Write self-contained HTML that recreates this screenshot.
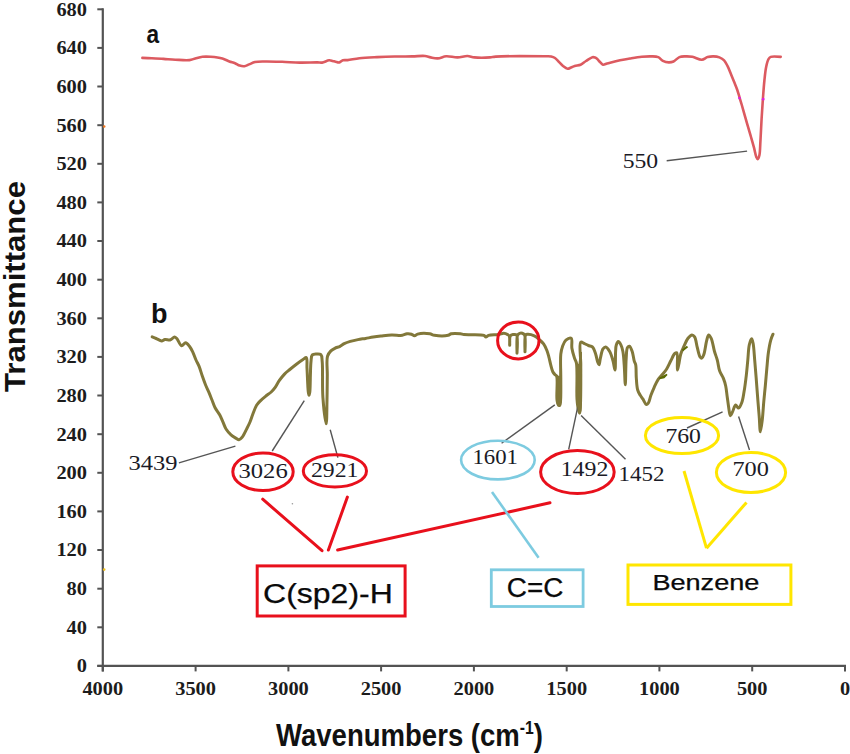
<!DOCTYPE html>
<html><head><meta charset="utf-8"><style>
html,body{margin:0;padding:0;background:#fff;}
body{width:850px;height:754px;overflow:hidden;}
svg{display:block;}
.tk{font-family:"Liberation Serif",serif;font-weight:bold;font-size:19px;fill:#1c1c1c;}
.nm{font-family:"Liberation Serif",serif;font-size:20.5px;fill:#1a1a26;}
.sb{font-family:"Liberation Sans",sans-serif;font-weight:bold;fill:#111;}
.bx{font-family:"Liberation Sans",sans-serif;fill:#0a0a0a;stroke:#0a0a0a;stroke-width:0.25px;}
</style></head><body>
<svg width="850" height="754" viewBox="0 0 850 754">
<rect width="850" height="754" fill="#fff"/>
<line x1="102.8" y1="8.3" x2="102.8" y2="671.4" stroke="#535353" stroke-width="2.2"/><line x1="97.3" y1="665.9" x2="846.0" y2="665.9" stroke="#535353" stroke-width="2.2"/><line x1="97.3" y1="665.9" x2="102.8" y2="665.9" stroke="#535353" stroke-width="2"/><line x1="97.3" y1="627.3" x2="102.8" y2="627.3" stroke="#535353" stroke-width="2"/><line x1="97.3" y1="588.7" x2="102.8" y2="588.7" stroke="#535353" stroke-width="2"/><line x1="97.3" y1="550.0" x2="102.8" y2="550.0" stroke="#535353" stroke-width="2"/><line x1="97.3" y1="511.4" x2="102.8" y2="511.4" stroke="#535353" stroke-width="2"/><line x1="97.3" y1="472.8" x2="102.8" y2="472.8" stroke="#535353" stroke-width="2"/><line x1="97.3" y1="434.2" x2="102.8" y2="434.2" stroke="#535353" stroke-width="2"/><line x1="97.3" y1="395.5" x2="102.8" y2="395.5" stroke="#535353" stroke-width="2"/><line x1="97.3" y1="356.9" x2="102.8" y2="356.9" stroke="#535353" stroke-width="2"/><line x1="97.3" y1="318.3" x2="102.8" y2="318.3" stroke="#535353" stroke-width="2"/><line x1="97.3" y1="279.7" x2="102.8" y2="279.7" stroke="#535353" stroke-width="2"/><line x1="97.3" y1="241.0" x2="102.8" y2="241.0" stroke="#535353" stroke-width="2"/><line x1="97.3" y1="202.4" x2="102.8" y2="202.4" stroke="#535353" stroke-width="2"/><line x1="97.3" y1="163.8" x2="102.8" y2="163.8" stroke="#535353" stroke-width="2"/><line x1="97.3" y1="125.2" x2="102.8" y2="125.2" stroke="#535353" stroke-width="2"/><line x1="97.3" y1="86.5" x2="102.8" y2="86.5" stroke="#535353" stroke-width="2"/><line x1="97.3" y1="47.9" x2="102.8" y2="47.9" stroke="#535353" stroke-width="2"/><line x1="97.3" y1="9.3" x2="102.8" y2="9.3" stroke="#535353" stroke-width="2"/><line x1="845.0" y1="665.9" x2="845.0" y2="671.4" stroke="#535353" stroke-width="2"/><line x1="752.2" y1="665.9" x2="752.2" y2="671.4" stroke="#535353" stroke-width="2"/><line x1="659.4" y1="665.9" x2="659.4" y2="671.4" stroke="#535353" stroke-width="2"/><line x1="566.7" y1="665.9" x2="566.7" y2="671.4" stroke="#535353" stroke-width="2"/><line x1="473.9" y1="665.9" x2="473.9" y2="671.4" stroke="#535353" stroke-width="2"/><line x1="381.1" y1="665.9" x2="381.1" y2="671.4" stroke="#535353" stroke-width="2"/><line x1="288.4" y1="665.9" x2="288.4" y2="671.4" stroke="#535353" stroke-width="2"/><line x1="195.6" y1="665.9" x2="195.6" y2="671.4" stroke="#535353" stroke-width="2"/><line x1="102.8" y1="665.9" x2="102.8" y2="671.4" stroke="#535353" stroke-width="2"/>
<text x="87.0" y="672.3" class="tk" text-anchor="end" textLength="10.2" lengthAdjust="spacingAndGlyphs">0</text><text x="87.0" y="633.7" class="tk" text-anchor="end" textLength="20.4" lengthAdjust="spacingAndGlyphs">40</text><text x="87.0" y="595.1" class="tk" text-anchor="end" textLength="20.4" lengthAdjust="spacingAndGlyphs">80</text><text x="87.0" y="556.4" class="tk" text-anchor="end" textLength="30.6" lengthAdjust="spacingAndGlyphs">120</text><text x="87.0" y="517.8" class="tk" text-anchor="end" textLength="30.6" lengthAdjust="spacingAndGlyphs">160</text><text x="87.0" y="479.2" class="tk" text-anchor="end" textLength="30.6" lengthAdjust="spacingAndGlyphs">200</text><text x="87.0" y="440.6" class="tk" text-anchor="end" textLength="30.6" lengthAdjust="spacingAndGlyphs">240</text><text x="87.0" y="401.9" class="tk" text-anchor="end" textLength="30.6" lengthAdjust="spacingAndGlyphs">280</text><text x="87.0" y="363.3" class="tk" text-anchor="end" textLength="30.6" lengthAdjust="spacingAndGlyphs">320</text><text x="87.0" y="324.7" class="tk" text-anchor="end" textLength="30.6" lengthAdjust="spacingAndGlyphs">360</text><text x="87.0" y="286.1" class="tk" text-anchor="end" textLength="30.6" lengthAdjust="spacingAndGlyphs">400</text><text x="87.0" y="247.4" class="tk" text-anchor="end" textLength="30.6" lengthAdjust="spacingAndGlyphs">440</text><text x="87.0" y="208.8" class="tk" text-anchor="end" textLength="30.6" lengthAdjust="spacingAndGlyphs">480</text><text x="87.0" y="170.2" class="tk" text-anchor="end" textLength="30.6" lengthAdjust="spacingAndGlyphs">520</text><text x="87.0" y="131.6" class="tk" text-anchor="end" textLength="30.6" lengthAdjust="spacingAndGlyphs">560</text><text x="87.0" y="92.9" class="tk" text-anchor="end" textLength="30.6" lengthAdjust="spacingAndGlyphs">600</text><text x="87.0" y="54.3" class="tk" text-anchor="end" textLength="30.6" lengthAdjust="spacingAndGlyphs">640</text><text x="87.0" y="15.7" class="tk" text-anchor="end" textLength="30.6" lengthAdjust="spacingAndGlyphs">680</text>
<text x="845.0" y="694.6" class="tk" text-anchor="middle" textLength="10.2" lengthAdjust="spacingAndGlyphs">0</text><text x="752.2" y="694.6" class="tk" text-anchor="middle" textLength="30.6" lengthAdjust="spacingAndGlyphs">500</text><text x="659.4" y="694.6" class="tk" text-anchor="middle" textLength="40.8" lengthAdjust="spacingAndGlyphs">1000</text><text x="566.7" y="694.6" class="tk" text-anchor="middle" textLength="40.8" lengthAdjust="spacingAndGlyphs">1500</text><text x="473.9" y="694.6" class="tk" text-anchor="middle" textLength="40.8" lengthAdjust="spacingAndGlyphs">2000</text><text x="381.1" y="694.6" class="tk" text-anchor="middle" textLength="40.8" lengthAdjust="spacingAndGlyphs">2500</text><text x="288.4" y="694.6" class="tk" text-anchor="middle" textLength="40.8" lengthAdjust="spacingAndGlyphs">3000</text><text x="195.6" y="694.6" class="tk" text-anchor="middle" textLength="40.8" lengthAdjust="spacingAndGlyphs">3500</text><text x="102.8" y="694.6" class="tk" text-anchor="middle" textLength="40.8" lengthAdjust="spacingAndGlyphs">4000</text>
<path d="M142.40,57.90 C142.40,57.90 148.50,58.05 151.80,58.20 C155.49,58.37 159.59,58.65 163.50,58.90 C167.43,59.15 171.19,59.50 175.30,59.70 C179.79,59.92 185.73,60.54 189.40,60.10 C191.81,59.81 193.24,59.03 195.30,58.50 C197.55,57.92 199.93,57.09 202.40,56.80 C205.02,56.49 207.63,56.59 210.60,56.80 C214.18,57.06 219.03,57.55 222.40,58.50 C225.09,59.26 227.18,60.69 229.40,61.50 C231.35,62.21 233.24,62.49 235.00,63.20 C236.67,63.87 238.09,65.10 239.70,65.60 C241.23,66.07 242.86,66.39 244.40,66.20 C245.99,66.01 247.45,65.04 249.10,64.40 C250.96,63.68 252.76,62.60 255.00,62.10 C257.73,61.50 260.77,61.58 264.40,61.50 C269.37,61.38 276.21,61.62 282.10,61.80 C287.98,61.98 293.82,62.50 299.70,62.60 C305.59,62.70 313.39,62.34 317.40,62.40 C319.47,62.43 320.40,62.84 322.10,62.60 C324.23,62.31 327.15,60.44 329.10,60.30 C330.45,60.20 331.49,60.65 332.60,60.90 C333.62,61.13 334.46,61.46 335.50,61.70 C336.70,61.97 338.17,62.62 339.40,62.40 C340.64,62.17 341.59,60.69 342.90,60.30 C344.30,59.88 345.69,60.29 347.60,60.10 C350.65,59.79 355.06,58.68 359.40,58.20 C364.69,57.61 371.21,57.38 377.10,57.10 C382.97,56.82 388.82,56.62 394.70,56.50 C400.59,56.38 407.00,56.50 412.40,56.40 C416.96,56.31 421.66,55.64 425.00,56.00 C427.26,56.24 428.61,57.01 430.60,57.40 C432.82,57.83 435.24,58.53 437.70,58.40 C440.42,58.26 443.14,56.52 446.20,56.30 C449.68,56.05 453.86,57.48 457.50,57.40 C460.91,57.33 464.39,55.91 467.40,56.00 C469.94,56.07 471.59,57.12 474.40,57.40 C478.56,57.81 486.11,57.68 490.00,57.40 C492.34,57.23 492.80,56.81 495.60,56.60 C503.88,55.99 536.39,56.19 545.00,56.30 C548.05,56.34 549.41,56.13 551.20,56.50 C552.65,56.80 553.77,57.19 555.00,58.00 C556.52,59.00 558.01,61.01 559.40,62.40 C560.66,63.66 561.65,64.96 563.00,66.00 C564.38,67.07 566.15,68.56 567.60,68.70 C568.79,68.81 569.85,67.95 571.00,67.50 C572.22,67.02 573.30,66.34 574.70,65.90 C576.41,65.36 578.75,65.48 580.60,64.70 C582.53,63.88 584.10,62.21 586.00,61.00 C588.02,59.71 590.69,57.57 592.40,57.20 C593.41,56.98 594.22,57.22 595.00,57.50 C595.75,57.77 596.30,58.22 597.00,58.80 C597.94,59.59 598.98,61.00 600.00,62.00 C600.98,62.96 601.85,64.44 603.00,64.70 C604.17,64.96 605.66,63.88 607.00,63.50 C608.33,63.12 609.40,62.81 611.00,62.40 C613.40,61.79 616.91,60.94 620.00,60.30 C623.24,59.63 626.52,59.06 630.00,58.50 C633.77,57.89 638.08,57.15 641.80,56.80 C645.10,56.49 648.30,56.32 651.20,56.40 C653.71,56.47 656.20,56.28 658.20,57.10 C660.05,57.86 661.14,60.02 662.90,60.90 C664.67,61.79 666.94,62.34 668.80,62.40 C670.45,62.45 671.92,62.19 673.50,61.50 C675.45,60.64 677.32,57.93 679.40,57.10 C681.27,56.35 683.24,56.46 685.30,56.40 C687.55,56.33 689.90,56.35 692.40,56.80 C695.34,57.33 699.07,59.87 701.80,59.70 C703.99,59.57 705.62,57.65 707.60,57.10 C709.52,56.57 711.54,56.35 713.50,56.40 C715.47,56.45 717.60,56.72 719.40,57.40 C721.12,58.05 722.78,58.96 724.10,60.30 C725.57,61.80 726.50,64.03 727.60,66.20 C728.85,68.67 729.98,71.70 731.10,74.40 C732.18,77.00 733.18,79.54 734.20,82.10 C735.21,84.64 736.31,87.15 737.20,89.70 C738.08,92.22 738.74,94.76 739.50,97.30 C740.27,99.86 740.99,102.23 741.80,105.00 C742.74,108.25 743.79,112.06 744.80,115.60 C745.82,119.16 746.87,122.73 747.90,126.30 C748.93,129.87 749.98,133.43 751.00,137.00 C752.02,140.56 753.09,144.26 754.00,147.70 C754.84,150.88 755.43,154.90 756.30,156.90 C756.77,157.98 757.33,159.24 757.80,159.20 C758.38,159.15 758.99,157.04 759.40,155.30 C760.14,152.16 760.08,146.75 760.40,141.60 C760.82,134.94 761.17,126.05 761.60,118.70 C762.00,111.86 762.42,105.38 762.90,98.90 C763.36,92.65 763.80,86.18 764.40,80.50 C764.92,75.59 765.37,70.67 766.20,66.80 C766.83,63.87 767.47,60.92 768.50,59.20 C769.16,58.10 769.62,57.39 770.80,56.90 C772.85,56.05 780.70,56.90 780.70,56.90" fill="none" stroke="#dc5a60" stroke-width="2.6" stroke-linejoin="round" stroke-linecap="round"/>
<path d="M152.20,336.90 C152.20,336.90 154.69,337.91 156.10,338.50 C157.80,339.21 160.09,340.88 161.70,340.90 C162.91,340.91 163.66,339.82 164.90,339.60 C166.48,339.32 168.86,340.30 170.50,339.80 C172.04,339.33 173.35,336.91 174.50,336.90 C175.37,336.89 175.98,337.66 176.80,338.50 C178.24,339.97 179.91,345.40 181.60,345.70 C182.88,345.93 184.30,342.72 185.60,342.80 C186.97,342.88 188.44,345.04 189.60,346.50 C190.87,348.09 191.80,350.04 192.80,352.10 C193.95,354.47 194.90,357.52 196.00,360.00 C197.01,362.26 198.13,364.02 199.10,366.40 C200.26,369.24 201.21,372.89 202.30,376.00 C203.34,378.98 204.39,381.95 205.50,384.70 C206.53,387.23 207.65,389.44 208.70,391.90 C209.79,394.46 210.84,397.16 211.90,399.80 C212.97,402.46 213.78,405.27 215.10,407.80 C216.42,410.33 218.46,412.56 219.80,415.00 C221.07,417.33 221.94,419.72 223.00,422.10 C224.07,424.49 224.83,427.14 226.20,429.30 C227.52,431.39 229.29,433.38 231.00,434.90 C232.51,436.24 234.34,437.25 235.80,438.10 C236.95,438.77 237.97,439.80 239.00,439.70 C240.08,439.59 241.08,438.50 242.10,437.30 C243.73,435.38 245.51,431.23 246.90,428.50 C248.08,426.19 249.05,424.27 250.00,422.00 C251.00,419.61 251.68,417.11 252.70,414.50 C253.85,411.57 255.08,407.77 256.60,405.30 C257.80,403.36 259.11,402.10 260.60,400.60 C262.19,399.00 264.11,397.45 265.90,396.00 C267.64,394.59 269.62,393.47 271.20,392.00 C272.71,390.59 273.94,389.14 275.20,387.40 C276.63,385.43 277.69,382.87 279.20,380.70 C280.77,378.44 282.64,376.03 284.50,374.10 C286.19,372.34 287.92,371.07 289.80,369.50 C291.86,367.78 294.18,365.88 296.40,364.20 C298.58,362.55 301.16,360.71 303.00,359.50 C304.27,358.66 305.56,357.12 306.30,357.50 C307.53,358.14 306.74,363.86 307.00,368.10 C307.38,374.47 307.73,387.70 308.30,392.00 C308.51,393.62 308.75,395.30 309.00,395.30 C309.25,395.30 309.59,393.54 309.80,392.00 C310.28,388.52 310.19,380.16 310.40,374.80 C310.59,370.08 310.56,365.15 311.00,361.50 C311.31,358.90 311.15,356.08 312.30,354.90 C313.20,353.98 314.91,354.06 316.30,354.00 C317.77,353.93 319.90,353.65 320.90,354.60 C322.13,355.77 321.87,358.28 322.20,361.50 C322.95,368.76 322.11,386.28 322.90,397.30 C323.58,406.82 325.52,423.83 326.20,423.80 C326.84,423.77 326.82,408.03 327.00,400.00 C327.19,391.77 327.21,382.74 327.30,375.00 C327.38,368.29 326.24,360.43 327.50,356.20 C328.23,353.75 329.57,352.26 330.90,350.90 C332.05,349.73 333.36,349.04 334.80,348.30 C336.37,347.49 338.39,347.10 340.00,346.30 C341.51,345.55 342.63,344.47 344.20,343.70 C346.01,342.81 348.13,342.06 350.30,341.40 C352.67,340.68 355.35,340.10 357.90,339.60 C360.45,339.10 363.04,338.82 365.60,338.40 C368.14,337.98 370.65,337.48 373.20,337.10 C375.75,336.72 378.12,336.42 380.90,336.10 C384.17,335.72 388.03,335.13 391.60,335.00 C395.16,334.87 399.50,335.70 402.30,335.30 C404.18,335.03 405.35,333.98 406.90,333.80 C408.42,333.63 410.16,333.80 411.50,334.20 C412.65,334.54 413.49,335.81 414.50,335.80 C415.53,335.79 416.16,334.49 417.60,334.10 C420.27,333.38 426.73,333.35 429.80,333.80 C431.73,334.08 432.42,334.99 434.40,335.30 C437.74,335.83 445.32,335.98 448.20,335.30 C449.62,334.97 449.88,334.11 451.20,333.80 C453.39,333.28 458.05,333.54 460.40,333.80 C461.89,333.96 462.30,334.38 464.00,334.60 C467.95,335.10 480.79,334.09 483.90,335.30 C485.03,335.74 485.17,336.95 485.90,337.00 C486.69,337.05 487.28,335.71 488.50,335.30 C490.69,334.56 495.71,335.04 498.50,334.60 C500.56,334.28 502.18,333.23 503.80,333.30 C505.21,333.36 506.72,334.04 507.70,334.60 C508.40,335.00 508.92,335.21 509.30,336.00 C510.09,337.65 509.53,345.20 509.70,345.20 C509.87,345.20 509.23,337.63 510.30,336.00 C510.91,335.06 512.01,334.78 513.00,334.60 C514.06,334.40 515.67,334.09 516.50,335.00 C518.39,337.06 516.82,353.20 517.00,353.20 C517.18,353.20 516.23,337.75 517.60,335.00 C518.13,333.94 518.91,333.58 519.70,333.30 C520.48,333.02 521.50,333.04 522.30,333.30 C523.14,333.58 524.04,333.92 524.60,335.00 C525.95,337.61 524.83,351.80 525.00,351.80 C525.17,351.80 524.16,336.95 525.60,335.00 C526.11,334.31 526.73,334.34 527.60,334.30 C529.17,334.22 532.29,334.95 534.30,335.90 C536.28,336.83 538.00,338.51 539.60,339.90 C541.08,341.18 542.44,342.29 543.60,343.90 C544.93,345.74 546.01,348.26 546.90,350.50 C547.76,352.66 548.27,354.78 548.90,357.10 C549.58,359.63 550.12,362.57 550.80,365.10 C551.43,367.42 551.96,370.04 552.80,371.70 C553.38,372.86 554.11,373.65 554.80,374.40 C555.38,375.04 556.13,374.99 556.60,376.00 C558.07,379.20 556.23,395.02 557.00,400.00 C557.36,402.32 557.76,404.35 558.50,405.00 C558.87,405.32 559.47,405.44 559.80,405.20 C560.47,404.71 560.41,402.34 560.60,400.00 C560.99,395.21 560.77,385.48 560.80,378.00 C560.84,370.22 560.16,360.00 560.80,354.20 C561.18,350.80 561.68,348.62 562.60,346.20 C563.44,343.99 564.36,341.52 565.90,340.20 C567.30,339.01 570.12,337.59 571.20,338.30 C572.64,339.24 571.36,344.93 571.90,348.20 C572.45,351.53 573.62,355.33 574.50,358.10 C575.16,360.16 576.00,360.79 576.50,363.40 C577.75,369.97 576.36,390.75 577.00,399.20 C577.35,403.86 577.82,407.52 578.50,410.00 C578.88,411.38 579.47,413.16 579.80,413.10 C580.46,412.99 580.42,405.43 580.60,400.00 C580.90,391.11 580.77,375.24 580.80,364.80 C580.82,356.44 578.72,343.64 580.80,342.20 C581.67,341.60 583.26,343.07 584.50,343.60 C585.80,344.16 587.08,344.95 588.40,345.50 C589.71,346.05 591.29,345.88 592.40,346.90 C593.92,348.30 594.82,351.68 595.70,354.20 C596.59,356.74 597.00,360.18 597.70,362.10 C598.12,363.26 598.62,364.85 599.00,364.80 C599.58,364.73 599.81,360.50 600.40,358.10 C601.10,355.26 601.72,350.75 603.00,348.90 C603.76,347.80 604.76,346.80 605.70,346.90 C606.96,347.04 608.57,349.57 609.70,351.50 C611.13,353.96 612.11,357.67 613.00,360.80 C613.87,363.87 614.55,370.14 615.00,370.10 C615.63,370.04 615.28,356.12 615.60,351.50 C615.79,348.74 615.70,346.67 616.30,344.90 C616.76,343.55 617.55,341.65 618.30,341.60 C619.08,341.55 620.19,343.53 620.90,344.90 C621.82,346.66 622.38,348.89 622.90,351.50 C623.62,355.14 623.83,359.92 624.20,364.80 C624.66,370.76 624.98,384.70 625.30,384.70 C625.67,384.70 625.66,364.95 626.20,358.10 C626.54,353.76 626.40,349.26 627.50,347.50 C628.02,346.67 628.87,346.03 629.50,346.20 C630.49,346.47 631.46,349.43 632.20,351.50 C633.13,354.12 633.49,358.36 634.20,360.80 C634.68,362.43 635.34,363.04 635.70,364.80 C636.33,367.89 635.95,373.71 636.30,378.00 C636.63,382.10 636.78,386.87 637.70,390.00 C638.34,392.19 639.36,393.70 640.30,395.30 C641.14,396.73 642.07,397.79 643.00,399.20 C644.06,400.82 645.21,404.26 646.30,404.50 C646.97,404.65 647.70,403.97 648.30,403.20 C649.41,401.75 649.93,397.92 650.90,395.30 C651.89,392.62 653.00,389.95 654.20,387.30 C655.42,384.61 656.66,381.61 658.20,379.30 C659.57,377.25 661.35,375.79 662.80,374.00 C664.21,372.26 665.55,370.71 666.80,368.70 C668.24,366.38 669.45,363.37 670.80,360.80 C672.11,358.31 673.47,354.62 674.80,353.50 C675.47,352.93 676.29,352.45 676.80,352.80 C678.26,353.80 676.83,370.04 677.40,370.10 C677.72,370.13 678.25,366.88 678.70,364.80 C679.33,361.88 679.74,357.44 680.70,354.20 C681.56,351.30 682.79,348.84 684.00,346.20 C685.22,343.53 686.44,340.28 688.00,338.30 C689.20,336.78 690.80,334.93 692.00,334.90 C692.95,334.88 693.87,335.78 694.60,336.90 C695.94,338.94 696.37,344.09 697.30,347.50 C698.17,350.71 698.83,355.19 700.00,356.80 C700.57,357.59 701.33,358.24 701.90,358.10 C702.69,357.90 703.29,355.94 703.90,354.20 C704.97,351.13 705.65,344.44 706.60,340.90 C707.25,338.48 707.72,335.05 708.60,334.90 C709.32,334.78 710.42,336.69 711.20,338.30 C712.59,341.18 713.38,347.59 714.50,351.50 C715.42,354.69 716.48,357.05 717.30,360.10 C718.20,363.45 718.48,367.60 719.60,370.80 C720.59,373.62 722.37,375.82 723.40,378.40 C724.39,380.89 725.09,383.22 725.70,386.00 C726.41,389.24 726.70,393.13 727.20,396.70 C727.70,400.27 728.15,404.07 728.70,407.40 C729.19,410.35 729.49,415.56 730.30,415.70 C730.89,415.80 731.74,413.37 732.50,411.90 C733.49,409.98 734.40,405.32 735.60,405.10 C736.50,404.94 737.66,408.22 738.60,408.10 C739.73,407.95 740.86,404.95 741.70,402.80 C742.82,399.92 743.30,396.08 744.00,392.10 C744.87,387.14 745.66,380.77 746.30,375.30 C746.91,370.11 747.30,365.18 747.80,360.10 C748.30,355.01 748.39,348.70 749.30,344.80 C749.89,342.26 750.93,338.68 751.60,338.70 C752.17,338.71 752.67,341.26 753.10,343.30 C753.89,347.12 754.19,354.38 754.70,360.10 C755.23,366.07 755.71,372.18 756.20,378.40 C756.71,384.87 757.19,391.73 757.70,398.20 C758.19,404.42 758.73,410.67 759.20,416.50 C759.63,421.83 759.84,431.78 760.40,431.80 C760.90,431.82 761.77,424.09 762.30,419.60 C762.95,414.13 763.28,407.13 763.80,401.30 C764.28,395.97 764.81,391.33 765.30,386.00 C765.84,380.17 766.36,373.52 766.90,367.70 C767.39,362.40 767.72,357.27 768.40,352.50 C769.02,348.20 769.76,343.64 770.70,340.30 C771.38,337.88 773.00,334.20 773.00,334.20" fill="none" stroke="#82783a" stroke-width="3" stroke-linejoin="round" stroke-linecap="round"/>
<line x1="666.7" y1="160.7" x2="747.1" y2="151.1" stroke="#555" stroke-width="1.4"/><line x1="178.9" y1="462.9" x2="235.4" y2="446.1" stroke="#555" stroke-width="1.4"/><line x1="272.2" y1="451" x2="304.3" y2="400.6" stroke="#555" stroke-width="1.4"/><line x1="337.9" y1="457.6" x2="330.2" y2="429.8" stroke="#555" stroke-width="1.4"/><line x1="501.6" y1="443.2" x2="554.8" y2="404.9" stroke="#555" stroke-width="1.4"/><line x1="568.7" y1="449.4" x2="577.8" y2="406.6" stroke="#555" stroke-width="1.4"/><line x1="581.1" y1="415.6" x2="625.5" y2="459.3" stroke="#555" stroke-width="1.4"/><line x1="687" y1="428" x2="722.6" y2="411.9" stroke="#555" stroke-width="1.4"/><line x1="738.6" y1="416.5" x2="749.5" y2="450" stroke="#555" stroke-width="1.4"/><ellipse cx="518.3" cy="340.4" rx="20.7" ry="18.5" fill="none" stroke="#e8101c" stroke-width="3"/><ellipse cx="263" cy="471.8" rx="30.2" ry="18.8" fill="none" stroke="#e8101c" stroke-width="3"/><ellipse cx="334.9" cy="470.9" rx="31.6" ry="16.1" fill="none" stroke="#e8101c" stroke-width="3"/><ellipse cx="497.9" cy="460.1" rx="36.8" ry="19.3" fill="none" stroke="#7dcbe0" stroke-width="2.6"/><ellipse cx="577.4" cy="472.1" rx="36.8" ry="21.5" fill="none" stroke="#e8101c" stroke-width="3"/><ellipse cx="682" cy="435.5" rx="36.6" ry="18.1" fill="none" stroke="#ffe600" stroke-width="3"/><ellipse cx="751" cy="472.5" rx="34.6" ry="20" fill="none" stroke="#ffe600" stroke-width="3"/><line x1="262.7" y1="499.2" x2="322" y2="550.7" stroke="#e8101c" stroke-width="3" stroke-linecap="round"/><line x1="347.4" y1="497.1" x2="328.4" y2="550" stroke="#e8101c" stroke-width="3" stroke-linecap="round"/><line x1="337.6" y1="550" x2="550" y2="502.8" stroke="#e8101c" stroke-width="3" stroke-linecap="round"/><line x1="492" y1="492" x2="538.6" y2="557.8" stroke="#7dcbe0" stroke-width="2.6"/><line x1="684" y1="471" x2="706.5" y2="548.2" stroke="#ffe600" stroke-width="3"/><line x1="746.5" y1="502.4" x2="706.5" y2="548.2" stroke="#ffe600" stroke-width="3"/><rect x="257.2" y="565.9" width="147.9" height="50.1" fill="none" stroke="#e8101c" stroke-width="3"/><rect x="491.3" y="569.8" width="91.8" height="36.7" fill="none" stroke="#7dcbe0" stroke-width="2.8"/><rect x="628" y="565" width="162.9" height="39.4" fill="none" stroke="#ffe600" stroke-width="3"/><polygon points="556,375 556.2,402 557.8,406.5 560.2,406.5 561.8,402 561.8,356 560.5,356 559.5,376" fill="#82783a"/><polygon points="575.8,362 576.2,399 577.8,411 579.6,414.6 581.4,411 582,400 582,352 579.8,352 578.5,364" fill="#82783a"/><path d="M659.5,378.5 L667,374.5 L664,377.5 Z" fill="#5a6a00" stroke="#5a6a00" stroke-width="1.5"/><path d="M682.5,350.5 L687.5,346.5" stroke="#5a6a00" stroke-width="2"/><circle cx="292.4" cy="503.8" r="0.8" fill="#999"/><circle cx="104.2" cy="126.5" r="1.3" fill="#f07820"/><circle cx="104.2" cy="569.6" r="1.3" fill="#f0c020"/><circle cx="739.5" cy="98.1" r="1.4" fill="#e020e0"/><circle cx="763.2" cy="99.2" r="1.4" fill="#e020e0"/>
<text x="622.6999999999999" y="168" class="nm" textLength="35.5" lengthAdjust="spacingAndGlyphs">550</text><text x="128.6" y="469.8" class="nm" textLength="49" lengthAdjust="spacingAndGlyphs">3439</text><text x="238.5" y="477.9" class="nm" textLength="49.2" lengthAdjust="spacingAndGlyphs">3026</text><text x="310.9" y="477.1" class="nm" textLength="47.5" lengthAdjust="spacingAndGlyphs">2921</text><text x="472.4" y="464.4" class="nm" textLength="45.5" lengthAdjust="spacingAndGlyphs">1601</text><text x="560.6999999999999" y="475.8" class="nm" textLength="47.6" lengthAdjust="spacingAndGlyphs">1492</text><text x="618.4" y="480.7" class="nm" textLength="46" lengthAdjust="spacingAndGlyphs">1452</text><text x="665.4" y="443" class="nm" textLength="35.5" lengthAdjust="spacingAndGlyphs">760</text><text x="732.4" y="476" class="nm" textLength="36.5" lengthAdjust="spacingAndGlyphs">700</text>
<text x="146.6" y="42.7" class="sb" font-size="25" textLength="12.6" lengthAdjust="spacingAndGlyphs">a</text>
<text x="151" y="322.9" class="sb" font-size="27">b</text>
<text x="263.1" y="602.5" class="bx" font-size="27" textLength="129.7" lengthAdjust="spacingAndGlyphs">C(sp2)-H</text>
<text x="506.8" y="597.3" class="bx" font-size="27" textLength="56.5" lengthAdjust="spacingAndGlyphs">C=C</text>
<text x="652.4" y="589.9" class="bx" font-size="22" textLength="107" lengthAdjust="spacingAndGlyphs">Benzene</text>
<text x="276" y="745.5" class="sb" font-size="31.5" textLength="267" lengthAdjust="spacingAndGlyphs">Wavenumbers (cm<tspan font-size="18" dy="-12">-1</tspan><tspan dy="12">)</tspan></text>
<text transform="translate(24.6,392) rotate(-90)" class="sb" font-size="30" textLength="211" lengthAdjust="spacingAndGlyphs">Transmittance</text>
</svg>
</body></html>
